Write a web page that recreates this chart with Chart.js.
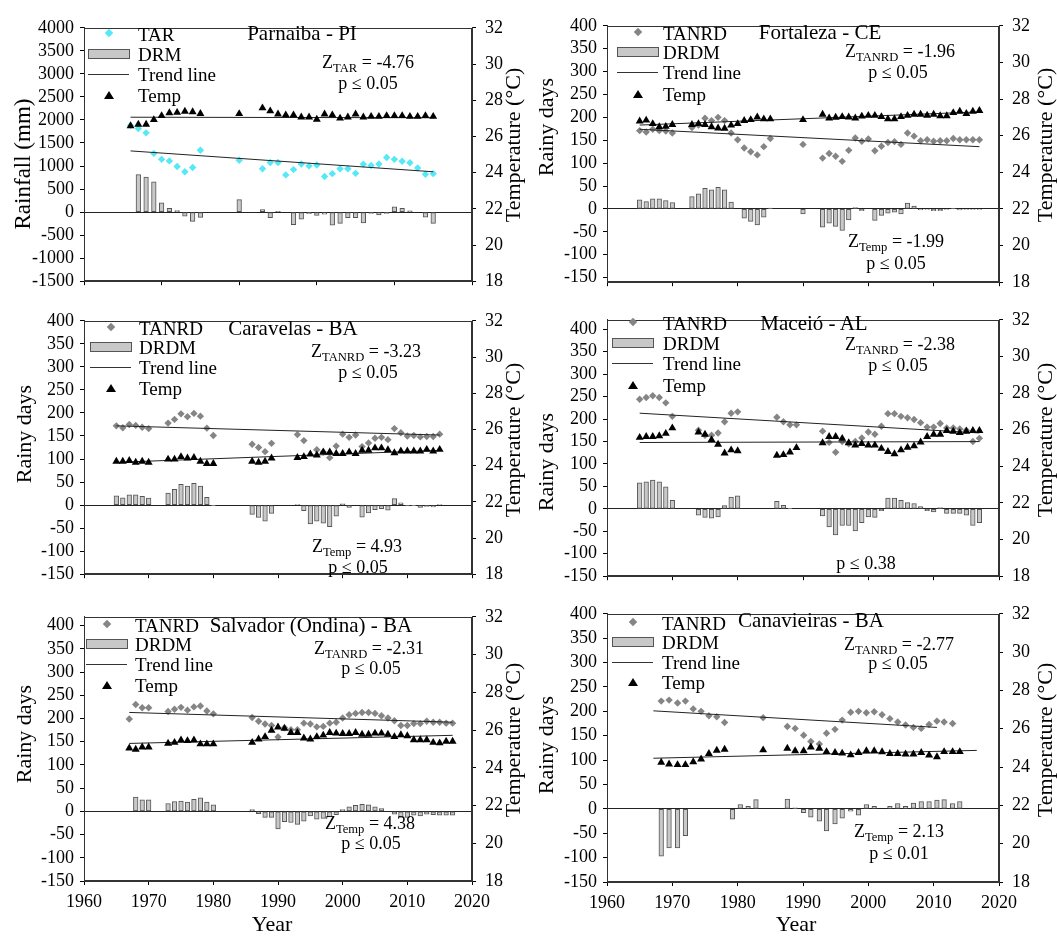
<!DOCTYPE html>
<html>
<head>
<meta charset="utf-8">
<script src="https://cdn.jsdelivr.net/npm/chart.js@4"></script>
<style>
body { margin: 0; background: #fff; }
#fig { position: relative; width: 1057px; height: 936px; overflow: hidden; font-family: "Liberation Serif", "Times New Roman", serif; color: #000; }
#fig canvas { position: absolute; }
.t { position: absolute; white-space: nowrap; line-height: 1; }
.t sub { font-size: 0.7em; vertical-align: -0.35em; line-height: 0; }
.mk { position: absolute; }
</style>
</head>
<body>
<div id="fig"></div>
<script>
// Tick labels
const yearTicks = [1960, 1970, 1980, 1990, 2000, 2010, 2020];
const rainTicks = [-1500, -1000, -500, 0, 500, 1000, 1500, 2000, 2500, 3000, 3500, 4000];
const dayTicks = [-150, -100, -50, 0, 50, 100, 150, 200, 250, 300, 350, 400];
const tempTicks = [18, 20, 22, 24, 26, 28, 30, 32];

// Parnaiba - PI
const parYears = [1966, 1967, 1968, 1969, 1970, 1971, 1972, 1973, 1974, 1975, 1980, 1983, 1984, 1985, 1986, 1987, 1988, 1989, 1990, 1991, 1992, 1993, 1994, 1995, 1996, 1997, 1998, 1999, 2000, 2001, 2002, 2003, 2004, 2005];
const parTAR = [1880, 1815, 1720, 1274, 1145, 1111, 990, 875, 969, 1341, 1125, 942, 1077, 1077, 807, 922, 1044, 1003, 1023, 773, 834, 942, 942, 841, 1037, 1010, 1044, 1186, 1145, 1105, 1071, 956, 820, 834];
const parDRM = [null, 812, 758, 656, 203, 81, 34, -88, -203, -115, 271, 54, -122, 14, null, -271, -156, -34, -74, -47, -284, -244, -122, -122, -237, -27, -61, -27, 115, 81, 27, null, -108, -244];
const parTemp = [26.58, 26.66, 26.66, 26.92, 27.14, 27.30, 27.32, 27.38, 27.35, 27.26, 27.25, 27.57, 27.40, 27.23, 27.18, 27.18, 27.06, 27.06, 26.94, 27.23, 27.18, 27.00, 27.06, 27.23, 27.06, 27.10, 27.10, 27.14, 27.14, 27.14, 27.10, 27.10, 27.14, 27.10];
const parTrendYears = [1966, 2005];
const parTARTrend = [1328, 875];
const parTempTrend = [27.06, 27.03];

// Fortaleza - CE
const forYears = [1965, 1966, 1967, 1968, 1969, 1970, 1973, 1974, 1975, 1976, 1977, 1978, 1979, 1980, 1981, 1982, 1983, 1984, 1985, 1990, 1993, 1994, 1995, 1996, 1997, 1998, 1999, 2000, 2001, 2002, 2003, 2004, 2005, 2006, 2007, 2008, 2009, 2010, 2011, 2012, 2013, 2014, 2015, 2016, 2017];
const forTANRD = [171, 168, 174, 171, 170, 166, 178, 183, 198, 193, 200, 193, 166, 151, 133, 125, 118, 136, 154, 141, 111, 121, 115, 104, 128, 155, 148, 153, 127, 137, 145, 147, 141, 166, 159, 149, 151, 148, 149, 149, 154, 151, 151, 151, 151];
const forDRDM = [20, 16, 22, 22, 18, 14, 27, 33, 45, 42, 47, 42, 15, null, -20, -27, -35, -18, 2, -11, -40, -31, -38, -47, -24, 3, -4, null, -25, -14, -9, -7, -11, 13, 6, -2, -1, -4, -4, -1, 1, -2, -1, -1, -1];
const forTemp = [26.79, 26.84, 26.65, 26.48, 26.50, 26.60, 26.60, 26.65, 26.60, 26.48, 26.41, 26.40, 26.57, 26.65, 26.82, 26.87, 27.01, 26.91, 26.91, 26.87, 27.16, 26.96, 27.00, 27.03, 27.01, 26.96, 27.06, 27.10, 27.10, 27.03, 26.91, 26.91, 27.03, 27.10, 27.16, 27.16, 27.11, 27.16, 27.08, 27.08, 27.25, 27.33, 27.20, 27.33, 27.37];
const forTrendYears = [1965, 2017];
const forTANRDTrend = [174, 136];
const forTempTrend = [26.58, 27.30];

// Caravelas - BA
const carYears = [1965, 1966, 1967, 1968, 1969, 1970, 1973, 1974, 1975, 1976, 1977, 1978, 1979, 1980, 1986, 1987, 1988, 1989, 1993, 1994, 1995, 1996, 1997, 1998, 1999, 2000, 2001, 2002, 2003, 2004, 2005, 2006, 2007, 2008, 2009, 2010, 2011, 2012, 2013, 2014, 2015];
const carTANRD = [172, 168, 175, 173, 169, 166, 178, 186, 198, 192, 199, 193, 167, 151, 132, 125, 116, 134, 153, 140, null, 120, 115, 103, 128, 154, 147, 152, 127, 135, 145, 147, 142, 166, 157, 150, 151, 148, 149, 149, 154];
const carDRDM = [20, 16, 22, 22, 19, 15, 26, 34, 45, 41, 47, 41, 17, -1, -20, -27, -35, -18, 1, -12, -41, -35, -39, -47, -24, 3, -5, null, -26, -17, -10, -8, -11, 14, 5, -2, -1, -5, -3, -4, 1];
const carTemp = [24.23, 24.23, 24.27, 24.18, 24.23, 24.18, 24.35, 24.35, 24.49, 24.41, 24.44, 24.23, 24.11, 24.11, 24.23, 24.18, 24.23, 24.41, 24.44, 24.49, 24.63, 24.58, 24.75, 24.75, 24.66, 24.66, 24.75, 24.66, 24.84, 24.84, 24.97, 24.97, 24.87, 24.70, 24.80, 24.80, 24.80, 24.80, 24.89, 24.80, 24.89];
const carTrendYears = [1965, 2015];
const carTANRDTrend = [172, 152];
const carTempTrend = [24.18, 24.84];

// Maceio - AL
const macYears = [1965, 1966, 1967, 1968, 1969, 1970, 1974, 1975, 1976, 1977, 1978, 1979, 1980, 1986, 1987, 1988, 1989, 1993, 1994, 1995, 1996, 1997, 1998, 1999, 2000, 2001, 2002, 2003, 2004, 2005, 2006, 2007, 2008, 2009, 2010, 2011, 2012, 2013, 2014, 2015, 2016, 2017];
const macTANRD = [244, 248, 252, 248, 236, 206, 175, 164, 164, 169, 194, 213, 216, 204, 194, 187, 187, 173, 148, 126, 150, 145, 150, 158, 171, 166, 184, 212, 212, 206, 203, 199, 192, 182, 182, 190, 180, 180, 178, 175, 150, 157];
const macDRDM = [58, 60, 64, 60, 49, 19, -14, -19, -21, -18, 7, 26, 29, 17, 8, 1, null, -16, -40, -58, -37, -37, -49, -31, -18, -19, -4, 24, 24, 19, 14, 12, 5, -4, -7, 3, -10, -10, -10, -14, -37, -31];
const macTemp = [25.57, 25.62, 25.62, 25.66, 25.79, 26.09, 25.86, 25.74, 25.45, 25.20, 24.72, 24.89, 24.84, 24.60, 24.63, 24.77, 25.01, 25.28, 25.62, 25.62, 25.52, 25.28, 25.15, 25.23, 25.15, 25.15, 24.97, 24.80, 24.68, 24.89, 25.03, 25.11, 25.32, 25.62, 25.74, 25.74, 25.95, 25.91, 25.83, 25.91, 25.95, 25.95];
const macTrendYears = [1965, 2017];
const macTANRDTrend = [213, 169];
const macTempTrend = [25.30, 25.35];

// Salvador (Ondina) - BA
const salYears = [1967, 1968, 1969, 1970, 1973, 1974, 1975, 1976, 1977, 1978, 1979, 1980, 1986, 1987, 1988, 1989, 1990, 1991, 1992, 1993, 1994, 1995, 1996, 1997, 1998, 1999, 2000, 2001, 2002, 2003, 2004, 2005, 2006, 2007, 2008, 2009, 2010, 2011, 2012, 2013, 2014, 2015, 2016, 2017];
const salTANRD = [199, 230, 223, 223, 215, 220, 224, 218, 225, 227, 216, 210, 202, 194, 188, 185, 160, 180, 176, 176, 190, 188, 182, 183, 190, 192, 201, 208, 211, 213, 213, 211, 206, 201, 195, 185, 185, 189, 189, 194, 192, 192, 190, 190];
const salDRDM = [null, 31, 25, 25, 17, 21, 22, 20, 26, 29, 20, 14, 4, -5, -13, -13, -38, -22, -24, -28, -21, -10, -17, -15, -12, -7, 4, 10, 13, 15, 14, 10, 6, 0, -6, -13, -13, -8, -10, -6, -7, -8, -8, -8];
const salTemp = [25.04, 24.97, 25.09, 25.09, 25.29, 25.34, 25.46, 25.43, 25.46, 25.26, 25.26, 25.26, 25.34, 25.52, 25.64, 25.98, 26.15, 26.08, 25.86, 25.86, 25.57, 25.52, 25.64, 25.72, 25.86, 25.83, 25.81, 25.81, 25.86, 25.77, 25.77, 25.83, 25.83, 25.77, 25.64, 25.74, 25.69, 25.48, 25.48, 25.48, 25.34, 25.31, 25.40, 25.40];
const salTrendYears = [1967, 2017];
const salTANRDTrend = [213, 192];
const salTempTrend = [25.29, 25.72];

// Canavieiras - BA (x positions)
const canYears = [1968.3, 1969.5, 1970.8, 1972.0, 1973.2, 1974.4, 1975.6, 1976.8, 1978.0, 1979.2, 1980.4, 1981.6, 1982.8, 1983.9, 1987.6, 1988.8, 1990.1, 1991.2, 1992.5, 1993.6, 1994.9, 1996.0, 1997.3, 1998.5, 1999.7, 2000.9, 2002.1, 2003.3, 2004.5, 2005.7, 2006.9, 2008.1, 2009.3, 2010.5, 2011.6, 2012.9, 2014.0];
const canTANRD = [221, 223, 217, 221, 205, 200, 191, 189, 177, null, null, null, null, 187, 169, 165, 151, 138, 133, 155, 163, 182, 198, 200, 197, 199, 193, 185, 178, 172, 167, 165, 173, 180, 178, 175, null];
const canDRDM = [-97, -80, -80, -55, null, null, null, null, null, -21, 9, 5, 19, null, 20, 2, -8, -17, -25, -45, -31, -19, -5, -13, 9, 5, 0, 5, 11, 5, 12, 15, 15, 18, 19, 11, 15];
const canTemp = [24.24, 24.15, 24.12, 24.12, 24.27, 24.41, 24.70, 24.87, 24.92, null, null, null, null, 24.89, 24.97, 24.84, 24.84, 25.04, 24.97, 24.80, 24.75, 24.72, 24.63, 24.75, 24.84, 24.84, 24.79, 24.70, 24.70, 24.67, 24.67, 24.75, 24.62, 24.53, 24.80, 24.80, 24.80];
const canTANRDTrendYears = [1967.1, 2010.5];
const canTANRDTrend = [201, 167];
const canTempTrendYears = [1967.1, 2016.6];
const canTempTrend = [24.46, 24.87];

const serif = '"Liberation Serif", "Times New Roman", serif';
const fig = document.getElementById("fig");

// column geometry: canvas strip and the plot box inside it
const cols = [
    { left: 0, width: 528, boxLeft: 84, boxRight: 472 },
    { left: 528, width: 529, boxLeft: 607, boxRight: 999 }
];

const panels = [
    { col: 0, top: 20, bottom: 291, yMin: -1500, yMax: 4000, yTicks: rainTicks, xMin: 1960, xMax: 2010, last: false,
      years: parYears, pts: parTAR, bars: parDRM, temp: parTemp, ptColor: "#57e8f7",
      ptTrendYears: parTrendYears, ptTrend: parTARTrend, tempTrendYears: parTrendYears, tempTrend: parTempTrend },
    { col: 1, top: 18, bottom: 292, yMin: -160, yMax: 400, yTicks: dayTicks, xMin: 1960, xMax: 2020, last: false,
      years: forYears, pts: forTANRD, bars: forDRDM, temp: forTemp, ptColor: "#858585",
      ptTrendYears: forTrendYears, ptTrend: forTANRDTrend, tempTrendYears: forTrendYears, tempTrend: forTempTrend },
    { col: 0, top: 313, bottom: 584, yMin: -150, yMax: 400, yTicks: dayTicks, xMin: 1960, xMax: 2020, last: false,
      years: carYears, pts: carTANRD, bars: carDRDM, temp: carTemp, ptColor: "#858585",
      ptTrendYears: carTrendYears, ptTrend: carTANRDTrend, tempTrendYears: carTrendYears, tempTrend: carTempTrend },
    { col: 1, top: 312, bottom: 586, yMin: -150, yMax: 421, yTicks: dayTicks, xMin: 1960, xMax: 2020, last: false,
      years: macYears, pts: macTANRD, bars: macDRDM, temp: macTemp, ptColor: "#858585",
      ptTrendYears: macTrendYears, ptTrend: macTANRDTrend, tempTrendYears: macTrendYears, tempTrend: macTempTrend },
    { col: 0, top: 609, bottom: 881, yMin: -150, yMax: 419, yTicks: dayTicks, xMin: 1960, xMax: 2020, last: true,
      years: salYears, pts: salTANRD, bars: salDRDM, temp: salTemp, ptColor: "#858585",
      ptTrendYears: salTrendYears, ptTrend: salTANRDTrend, tempTrendYears: salTrendYears, tempTrend: salTempTrend },
    { col: 1, top: 606, bottom: 882, yMin: -150, yMax: 400, yTicks: dayTicks, xMin: 1960, xMax: 2020, last: true,
      years: canYears, pts: canTANRD, bars: canDRDM, temp: canTemp, ptColor: "#858585",
      ptTrendYears: canTANRDTrendYears, ptTrend: canTANRDTrend, tempTrendYears: canTempTrendYears, tempTrend: canTempTrend }
];

function pairs(xs, ys) {
    return xs.map((x, i) => ({ x: x, y: ys[i] })).filter(p => p.y !== null);
}

function useTicks(list) {
    return function(scale) {
        scale.ticks = list.filter(v => v >= scale.min && v <= scale.max).map(v => ({ value: v }));
    };
}

const framePlugin = {
    id: "frame",
    afterDraw(chart) {
        const a = chart.chartArea;
        const g = chart.ctx;
        g.save();
        g.strokeStyle = "#333";
        g.lineWidth = 1;
        g.strokeRect(Math.round(a.left) + 0.5, Math.round(a.top) + 0.5, Math.round(a.right - a.left) - 1, Math.round(a.bottom - a.top) - 1);
        g.restore();
    }
};

function makePanel(p) {
    const col = cols[p.col];
    const padTop = 12;
    const xh = p.last ? 34 : 10;
    const w = col.width;
    const h = p.bottom - p.top + padTop + xh;
    const canvas = document.createElement("canvas");
    canvas.width = w;
    canvas.height = h;
    canvas.style.left = col.left + "px";
    canvas.style.top = (p.top - padTop) + "px";
    canvas.style.width = w + "px";
    canvas.style.height = h + "px";
    fig.appendChild(canvas);

    const tickFont = { family: serif, size: 18 };
    new Chart(canvas, {
        type: "bar",
        data: {
            datasets: [
                { type: "line", data: pairs(p.years, p.temp), yAxisID: "yT", showLine: false,
                  pointStyle: "triangle", pointRadius: 4.6, pointBackgroundColor: "#000", pointBorderWidth: 0, order: 0 },
                { type: "line", data: pairs(p.tempTrendYears, p.tempTrend), yAxisID: "yT",
                  borderColor: "#222", borderWidth: 1, pointRadius: 0, order: 1 },
                { type: "line", data: pairs(p.ptTrendYears, p.ptTrend), yAxisID: "y",
                  borderColor: "#222", borderWidth: 1, pointRadius: 0, order: 1 },
                { type: "line", data: pairs(p.years, p.pts), yAxisID: "y", showLine: false,
                  pointStyle: "rectRot", pointRadius: 3.7, pointBackgroundColor: p.ptColor, pointBorderWidth: 0, order: 2 },
                { type: "bar", data: pairs(p.years, p.bars), yAxisID: "y", backgroundColor: "#c8c8c8",
                  borderColor: "#555", borderWidth: 1, borderSkipped: false, barThickness: 4.6, order: 3 }
            ]
        },
        options: {
            responsive: false,
            animation: false,
            events: [],
            layout: { padding: { top: padTop, left: 0, right: 0, bottom: 0 } },
            plugins: { legend: { display: false }, tooltip: { enabled: false } },
            scales: {
                x: {
                    type: "linear", min: p.xMin, max: p.xMax, offset: false,
                    afterBuildTicks: useTicks(yearTicks),
                    ticks: { display: p.last, font: tickFont, color: "#000", padding: 6, maxRotation: 0, autoSkip: false,
                             callback: v => String(v) },
                    grid: { display: true, offset: false, drawOnChartArea: false, drawTicks: true, tickLength: 4, color: "#000" },
                    border: { color: "#333", width: 1 },
                    afterFit: s => { s.height = xh; }
                },
                y: {
                    position: "left", min: p.yMin, max: p.yMax,
                    afterBuildTicks: useTicks(p.yTicks),
                    ticks: { font: tickFont, color: "#000", padding: 6, autoSkip: false, callback: v => String(v) },
                    grid: { color: c => (c.tick && c.tick.value === 0) ? "#222" : "rgba(0,0,0,0)",
                            tickColor: "#000", tickLength: 4, drawTicks: true },
                    border: { color: "#333", width: 1 },
                    afterFit: s => { s.width = col.boxLeft - col.left; }
                },
                yT: {
                    position: "right", min: 18, max: 32,
                    afterBuildTicks: useTicks(tempTicks),
                    ticks: { font: tickFont, color: "#000", padding: 9, autoSkip: false, callback: v => String(v) },
                    grid: { drawOnChartArea: false, tickLength: 4, color: "#000" },
                    border: { color: "#333", width: 1 },
                    afterFit: s => { s.width = col.left + col.width - col.boxRight; }
                }
            }
        },
        plugins: [framePlugin]
    });
}

panels.forEach(makePanel);

// text overlays
function txt(html, x, y, size, mode) {
    const d = document.createElement("div");
    d.className = "t";
    d.innerHTML = html;
    d.style.left = x + "px";
    d.style.top = y + "px";
    d.style.fontSize = size + "px";
    if (mode === "l") d.style.transform = "translateY(-50%)";
    else if (mode === "r") d.style.transform = "translate(-50%,-50%) rotate(-90deg)";
    else d.style.transform = "translate(-50%,-50%)";
    fig.appendChild(d);
}

function mark(kind, x, y, color) {
    const d = document.createElement("div");
    d.className = "mk";
    if (kind === "diamond") {
        Object.assign(d.style, { left: (x - 3) + "px", top: (y - 3) + "px", width: "6px", height: "6px",
            background: color, transform: "rotate(45deg)" });
    } else if (kind === "box") {
        Object.assign(d.style, { left: x + "px", top: y + "px", width: "40px", height: "8px",
            background: "#c8c8c8", border: "1px solid #555" });
    } else if (kind === "line") {
        Object.assign(d.style, { left: x + "px", top: y + "px", width: "41px", height: "1px", background: "#333" });
    } else {
        Object.assign(d.style, { left: (x - 5) + "px", top: (y - 4) + "px", width: "0", height: "0",
            borderLeft: "5px solid transparent", borderRight: "5px solid transparent", borderBottom: "8px solid #000" });
    }
    fig.appendChild(d);
}

function legend(name1, name2, color, lx, tx, ys) {
    mark("diamond", lx + 21, ys[0], color);
    txt(name1, tx, ys[0] + 1, 19, "l");
    mark("box", lx, ys[1] - 5, color);
    txt(name2, tx, ys[1], 19, "l");
    mark("line", lx, ys[2], color);
    txt("Trend line", tx, ys[2], 19, "l");
    mark("tri", lx + 21, ys[3], color);
    txt("Temp", tx, ys[3], 19, "l");
}

// Parnaiba
legend("TAR", "DRM", "#57e8f7", 88, 138, [33, 54, 74, 95]);
txt("Parnaiba - PI", 302, 33, 21);
txt("Z<sub>TAR</sub> = -4.76", 368, 62, 18);
txt("p ≤ 0.05", 368, 83, 18);
// Fortaleza
legend("TANRD", "DRDM", "#858585", 617, 663, [32, 52, 72, 94]);
txt("Fortaleza - CE", 820, 32, 21);
txt("Z<sub>TANRD</sub> = -1.96", 900, 51, 18);
txt("p ≤ 0.05", 898, 72, 18);
txt("Z<sub>Temp</sub> = -1.99", 896, 241, 18);
txt("p ≤ 0.05", 896, 263, 18);
// Caravelas
legend("TANRD", "DRDM", "#858585", 90, 139, [327, 347, 367, 388]);
txt("Caravelas - BA", 293, 328, 21);
txt("Z<sub>TANRD</sub> = -3.23", 366, 351, 18);
txt("p ≤ 0.05", 368, 372, 18);
txt("Z<sub>Temp</sub> = 4.93", 357, 546, 18);
txt("p ≤ 0.05", 358, 567, 18);
// Maceio
legend("TANRD", "DRDM", "#858585", 612, 663, [322, 343, 363, 385]);
txt("Maceió - AL", 814, 323, 21);
txt("Z<sub>TANRD</sub> = -2.38", 900, 344, 18);
txt("p ≤ 0.05", 898, 365, 18);
txt("p ≤ 0.38", 866, 563, 18);
// Salvador
legend("TANRD", "DRDM", "#858585", 86, 135, [624, 644, 664, 685]);
txt("Salvador (Ondina) - BA", 311, 625, 21);
txt("Z<sub>TANRD</sub> = -2.31", 369, 648, 18);
txt("p ≤ 0.05", 371, 668, 18);
txt("Z<sub>Temp</sub> = 4.38", 370, 823, 18);
txt("p ≤ 0.05", 371, 843, 18);
// Canavieiras
legend("TANRD", "DRDM", "#858585", 612, 662, [622, 642, 662, 682]);
txt("Canavieiras - BA", 811, 620, 21);
txt("Z<sub>TANRD</sub> = -2.77", 899, 644, 18);
txt("p ≤ 0.05", 898, 663, 18);
txt("Z<sub>Temp</sub> = 2.13", 899, 831, 18);
txt("p ≤ 0.01", 899, 853, 18);

// axis titles
txt("Rainfall (mm)", 22, 164, 23, "r");
txt("Rainy days", 24, 434, 22, "r");
txt("Rainy days", 24, 734, 22, "r");
txt("Rainy days", 546, 127, 22, "r");
txt("Rainy days", 546, 462, 22, "r");
txt("Rainy days", 546, 745, 22, "r");
txt("Temperature (°C)", 513, 145, 22, "r");
txt("Temperature (°C)", 513, 440, 22, "r");
txt("Temperature (°C)", 513, 740, 22, "r");
txt("Temperature (°C)", 1045, 145, 22, "r");
txt("Temperature (°C)", 1045, 440, 22, "r");
txt("Temperature (°C)", 1045, 740, 22, "r");
txt("Year", 272, 924, 22);
txt("Year", 796, 924, 22);
</script>
</body>
</html>
